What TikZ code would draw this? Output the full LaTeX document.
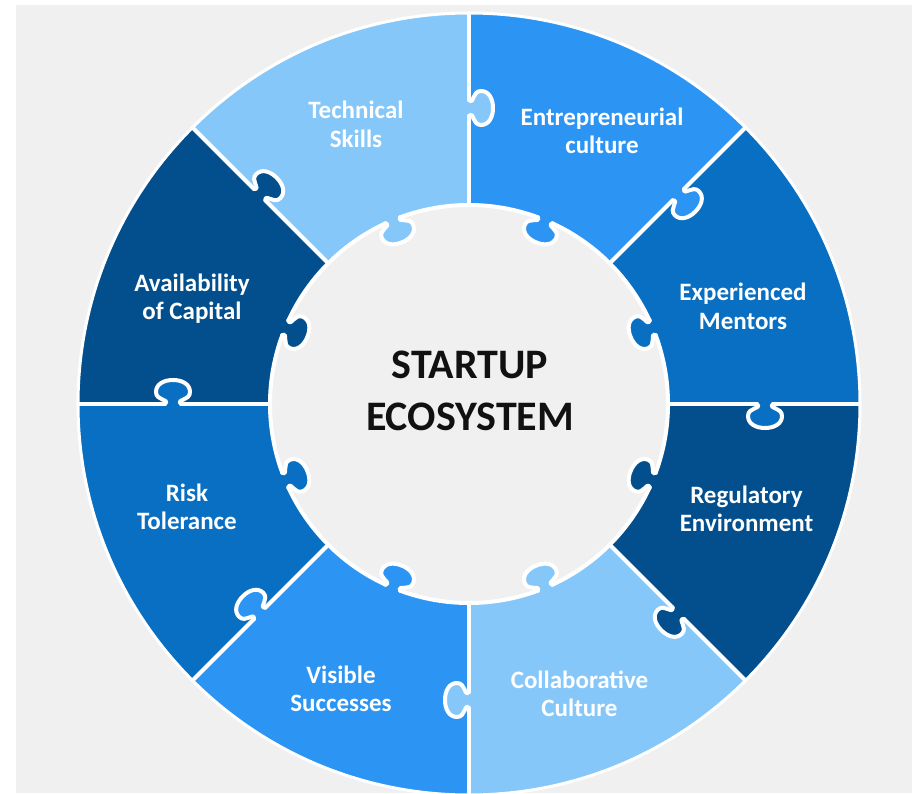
\documentclass[tikz,border=0pt]{standalone}
\usepackage{fontspec}
\setmainfont{Carlito}
\definecolor{navy}{RGB}{3,79,141}
\definecolor{midblue}{RGB}{9,111,194}
\definecolor{brightblue}{RGB}{44,148,243}
\definecolor{lightblue}{RGB}{134,199,250}
\definecolor{backgray}{RGB}{240,240,240}
\definecolor{titleblack}{RGB}{17,17,17}

% puzzle tab on the x axis, bulging towards -y
\newcommand{\tabpath}{(-8,0) .. controls (-3,-5) and (-17,-3) .. (-17,-12)
  .. controls (-17,-20) and (-9,-24) .. (0,-24)
  .. controls (9,-24) and (17,-20) .. (17,-12)
  .. controls (17,-3) and (3,-5) .. (8,0)}
% ring sector from #1 to #1+45
\newcommand{\sector}[2]{\fill[#2,rotate=#1] (0:199) -- (0:391)
  arc[start angle=0,end angle=45,radius=391] -- (45:199)
  arc[start angle=45,end angle=0,radius=199] -- cycle;}
% tab on the lower edge and tab on the inner rim of a piece
\newcommand{\tabs}[2]{%
  \fill[#2,rotate=#1,shift={(296,0)}] \tabpath -- (8,2) -- (-8,2) -- cycle;
  \fill[#2,rotate=#1,shift={(22.5:199)},rotate=-67.5] \tabpath -- (8,2) -- (-8,2) -- cycle;}
% white seams of a piece
\newcommand{\seams}[1]{%
  \draw[seam,rotate=#1] (199,0) -- (288,0) (304,0) -- (391,0);
  \draw[seam,rotate=#1,shift={(296,0)}] \tabpath;
  \draw[seam,rotate=#1] (0:199) arc[start angle=0,end angle=20.2,radius=199]
    (24.8:199) arc[start angle=24.8,end angle=45,radius=199];
  \draw[seam,rotate=#1,shift={(22.5:199)},rotate=-67.5] \tabpath;}

\begin{document}
\begin{tikzpicture}[x=1pt,y=1pt,
  seam/.style={white,line width=4pt,line cap=round},
  lbl/.style={text=white,font=\fontsize{25}{28.3}\selectfont\bfseries,align=center,inner sep=0pt},
  title/.style={text=titleblack,font=\fontsize{42}{52}\selectfont\bfseries,align=center,inner sep=0pt}]
\useasboundingbox (0,0) rectangle (912,793);
\fill[white] (0,0) rectangle (912,793);
\fill[backgray] (16,0) rectangle (912,788);

\begin{scope}[shift={(469,389)}]
% pieces
\sector{0}{midblue}
\sector{45}{brightblue}
\sector{90}{lightblue}
\sector{135}{navy}
\sector{180}{midblue}
\sector{225}{brightblue}
\sector{270}{lightblue}
\sector{315}{navy}
% tabs
\tabs{0}{midblue}
\tabs{45}{brightblue}
\tabs{90}{lightblue}
\tabs{135}{navy}
\tabs{180}{midblue}
\tabs{225}{brightblue}
\tabs{270}{lightblue}
\tabs{315}{navy}
% seams
\seams{0}
\seams{45}
\seams{90}
\seams{135}
\seams{180}
\seams{225}
\seams{270}
\seams{315}
\draw[white,line width=3pt] (0,0) circle[radius=391];
\end{scope}

\node[title] (eco) at (470,399.2) {\strut STARTUP\\\strut ECOSYSTEM};

\node[lbl] (mentors) at (743,483.7) {\strut Experienced\\\strut Mentors};
\node[lbl] (culture) at (602,659.5) {\strut Entrepreneurial\\\strut culture};
\node[lbl] (skills) at (356,665.8) {\strut Technical\\\strut Skills};
\node[lbl] (capital) at (192,493.5) {\strut Availability\\\strut of Capital};
\node[lbl] (risk) at (187,283.2) {\strut Risk\\\strut Tolerance};
\node[lbl] (success) at (341,101) {\strut Visible\\\strut Successes};
\node[lbl] (collab) at (579.5,96.5) {\strut Collaborative\\\strut Culture};
\node[lbl] (regul) at (746.5,281.5) {\strut Regulatory\\\strut Environment};
\end{tikzpicture}
\end{document}
